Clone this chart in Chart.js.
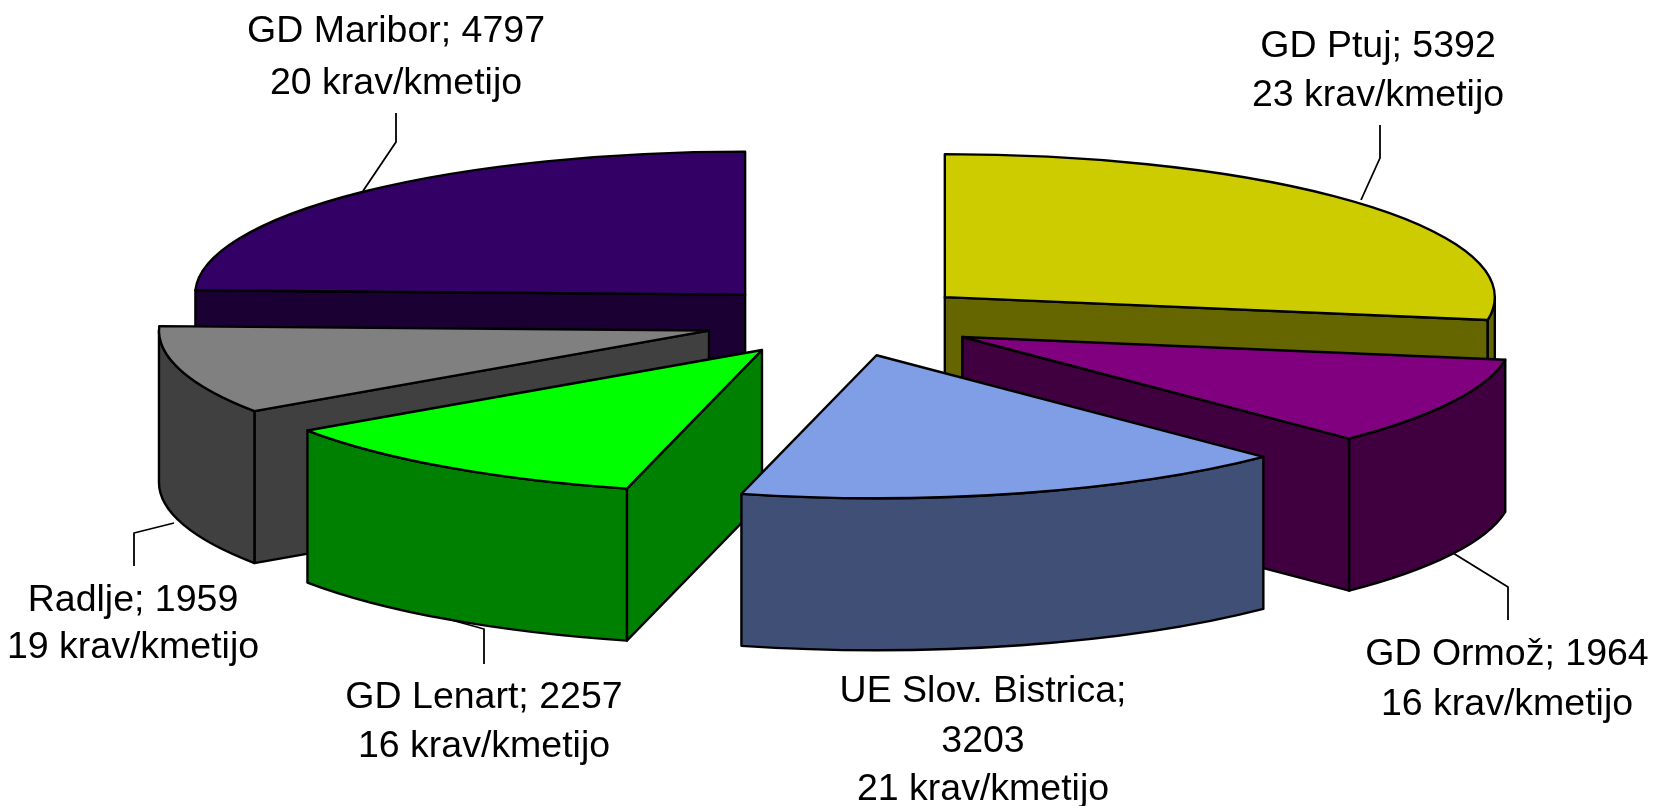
<!DOCTYPE html>
<html><head><meta charset="utf-8">
<style>html,body{margin:0;padding:0;background:#fff}canvas{display:block}</style>
<script src="https://cdn.jsdelivr.net/npm/chart.js@4"></script>
</head><body><canvas id="c" width="1655" height="806"></canvas>
<script>
const categories = ['GD Ptuj','GD Ormož','UE Slov. Bistrica','GD Lenart','Radlje','GD Maribor'];
const cows = [5392,1964,3203,2257,1959,4797];
const cowsPerFarm = [23,16,21,16,19,20];
const topColors = ['#cccc00','#800080','#7f9ee6','#00ff00','#808080','#330066'];
const sideColors = ['#666600','#400040','#404f75','#008000','#404040','#1a0033'];
const drawOrder = [0,5,4,1,3,2];
const labelLines = [
  [`GD Ptuj; 5392`,`23 krav/kmetijo`],
  [`GD Ormož; 1964`,`16 krav/kmetijo`],
  [`UE Slov. Bistrica;`,`3203`,`21 krav/kmetijo`],
  [`GD Lenart; 2257`,`16 krav/kmetijo`],
  [`Radlje; 1959`,`19 krav/kmetijo`],
  [`GD Maribor; 4797`,`20 krav/kmetijo`]
];
const labelX = [1378,1507,983,484,133,396];
const labelY = [[57,106],[665,715],[702,752,800],[708,757],[611,658],[42,94]];
const leaders = [
  [[1361,200],[1380,158],[1380,125]],
  [[1453,553],[1508,587],[1508,620]],
  [],
  [[444,618],[484,629],[484,664]],
  [[174,523],[134,533],[134,566]],
  [[363,191],[396,142],[396,113]]
];
const TILT = 0.26, DEPTH = 152, EXPLODE_X = 137, EXPLODE_Y = 36;

const pie3d = {
  id:'pie3d',
  beforeDatasetDraw(chart,args){
    const ctx = chart.ctx, arcs = args.meta.data;
    ctx.save();
    ctx.lineWidth = 2.4; ctx.strokeStyle = '#000'; ctx.lineJoin = 'round';
    for (const i of drawOrder){
      const el = arcs[i];
      const s = el.startAngle, e = el.endAngle, r = el.outerRadius, mid = (s+e)/2;
      const ox = el.x + Math.cos(mid)*EXPLODE_X;
      const oy = el.y + Math.sin(mid)*EXPLODE_Y;
      const px = (a,z=0)=>[ox+Math.cos(a)*r, oy+Math.sin(a)*r*TILT+z];
      const face = pts=>{
        ctx.beginPath(); pts.forEach((p,n)=>n?ctx.lineTo(p[0],p[1]):ctx.moveTo(p[0],p[1]));
        ctx.closePath(); ctx.fillStyle = sideColors[i]; ctx.fill(); ctx.stroke();
      };
      const wall = a=>face([[ox,oy],px(a),px(a,DEPTH),[ox,oy+DEPTH]]);
      if (-Math.cos(s) > 1e-6) wall(s);
      if (Math.cos(e) > 1e-6) wall(e);
      const a0 = Math.max(s,0), a1 = Math.min(e,Math.PI);
      if (a1 > a0){
        ctx.beginPath();
        ctx.ellipse(ox,oy,r,r*TILT,0,a0,a1);
        ctx.ellipse(ox,oy+DEPTH,r,r*TILT,0,a1,a0,true);
        ctx.closePath(); ctx.fillStyle = sideColors[i]; ctx.fill(); ctx.stroke();
      }
      // top face: the library's own arc, squashed and moved out
      ctx.save();
      ctx.translate(ox, oy); ctx.scale(1,TILT); ctx.translate(-el.x,-el.y);
      el.draw(ctx);
      ctx.restore();
      ctx.beginPath(); ctx.moveTo(ox,oy); ctx.ellipse(ox,oy,r,r*TILT,0,s,e); ctx.closePath(); ctx.stroke();
    }
    // leader lines
    ctx.lineWidth = 1.8;
    leaders.forEach(l=>{ if(!l.length) return; ctx.beginPath(); l.forEach((p,n)=>n?ctx.lineTo(p[0],p[1]):ctx.moveTo(p[0],p[1])); ctx.stroke(); });
    // labels
    ctx.fillStyle = '#000'; ctx.font = '37.5px "Liberation Sans", Arial, sans-serif';
    ctx.textAlign = 'center'; ctx.textBaseline = 'alphabetic';
    labelLines.forEach((ls,i)=>ls.forEach((t,n)=>ctx.fillText(t,labelX[i],labelY[i][n])));
    ctx.restore();
    return false;
  }
};

new Chart(document.getElementById('c'),{
  type:'pie',
  data:{labels:categories,datasets:[{data:cows,backgroundColor:topColors,borderWidth:0,radius:550}]},
  options:{
    responsive:false,animation:false,
    layout:{padding:{left:26,right:0,top:0,bottom:165}},
    plugins:{legend:{display:false},tooltip:{enabled:false}}
  },
  plugins:[pie3d,{id:'bg',beforeDraw(c){c.ctx.save();c.ctx.fillStyle='#fff';c.ctx.fillRect(0,0,c.width,c.height);c.ctx.restore();}}]
});
</script></body></html>
